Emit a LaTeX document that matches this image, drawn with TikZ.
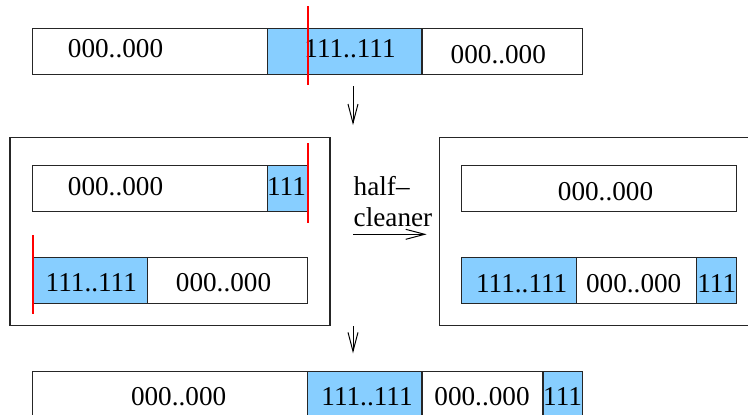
\documentclass[tikz,border=0pt]{standalone}
\usepackage{fontspec}
\setmainfont{Liberation Serif}
\usetikzlibrary{arrows.meta}
\definecolor{ltblue}{HTML}{87CEFF}
\definecolor{cutred}{HTML}{FF0000}

\begin{document}
\begin{tikzpicture}[x=0.5pt,y=-0.5pt,%
	seg/.style={draw=black!85,line width=0.6pt},
	ones/.style={seg,fill=ltblue},
	bits/.style={anchor=base,inner sep=0pt,font=\fontsize{13.6}{16}\selectfont},
	cut/.style={draw=cutred,line width=1pt},
	flow/.style={-{Straight Barb[length=9.5pt,width=5pt]},line width=0.5pt}]
	\useasboundingbox (0,0) rectangle (748,414);

	% input sequence
	\draw[seg]  (32.7,28.7) rectangle (267.3,74.3);
	\draw[ones] (267.3,28.7) rectangle (422,74.3);
	\draw[seg]  (422,28.7) rectangle (582.3,74.3);
	\node[bits] (in0) at (115.5,57) {000..000};
	\node[bits] (in1) at (350,57) {111..111};
	\node[bits] (in2) at (498.3,63) {000..000};
	\draw[cut] (307.5,6) -- (307.5,85);

	\coordinate (d1) at (353,86);
	\coordinate (d2) at (353,125);
	\draw[flow] (d1) -- (d2);

	% the two halves
	\draw[seg] (10,137.3) rectangle (330,325.7);
	\draw[seg]  (32.7,165.7) rectangle (267.3,211.3);
	\draw[ones] (267.3,165.7) rectangle (307.3,211.3);
	\node[bits] (up0) at (115.5,195) {000..000};
	\node[bits] (up1) at (286.5,195) {111};
	\draw[ones] (32.7,257.3) rectangle (147.7,303.3);
	\draw[seg]  (147.7,257.3) rectangle (307.3,303.3);
	\node[bits] (lo1) at (91.3,291.7) {111..111};
	\node[bits] (lo0) at (223.5,291.7) {000..000};
	\draw[cut] (307.5,143) -- (307.5,222.7);
	\draw[cut] (33,235) -- (33,314);

	\node[bits,anchor=base west] (hc1) at (353.3,195) {half--};
	\node[bits,anchor=base west] (hc2) at (353.3,226.7) {cleaner};
	\coordinate (h1) at (353,234.3);
	\coordinate (h2) at (426.7,234.3);
	\draw[flow] (h1) -- (h2);

	% after the half-cleaner
	\draw[seg] (439.3,137.3) rectangle (760,325.7);
	\draw[seg] (461.7,165.7) rectangle (736.3,211.3);
	\node[bits] (cl0) at (605.5,200) {000..000};
	\draw[ones] (461.7,257.3) rectangle (576.7,303.3);
	\draw[seg]  (576.7,257.3) rectangle (696.7,303.3);
	\draw[ones] (696.7,257.3) rectangle (736.3,303.3);
	\node[bits] (mx1) at (521.7,292) {111..111};
	\node[bits] (mx0) at (633.7,292) {000..000};
	\node[bits] (mx2) at (716.7,292) {111};

	\coordinate (e1) at (353,326);
	\coordinate (e2) at (353,353.3);
	\draw[flow] (e1) -- (e2);

	% output sequence
	\draw[seg]  (32.7,371.7) rectangle (307.7,417.4);
	\draw[ones] (307.7,371.7) rectangle (422,417.4);
	\draw[seg]  (422,371.7) rectangle (543,417.4);
	\draw[ones] (543,371.7) rectangle (582.3,417.4);
	\node[bits] (out0) at (178.6,405) {000..000};
	\node[bits] (out1) at (367,405) {111..111};
	\node[bits] (out2) at (482,405) {000..000};
	\node[bits] (out3) at (562.6,405) {111};
\end{tikzpicture}
\end{document}
